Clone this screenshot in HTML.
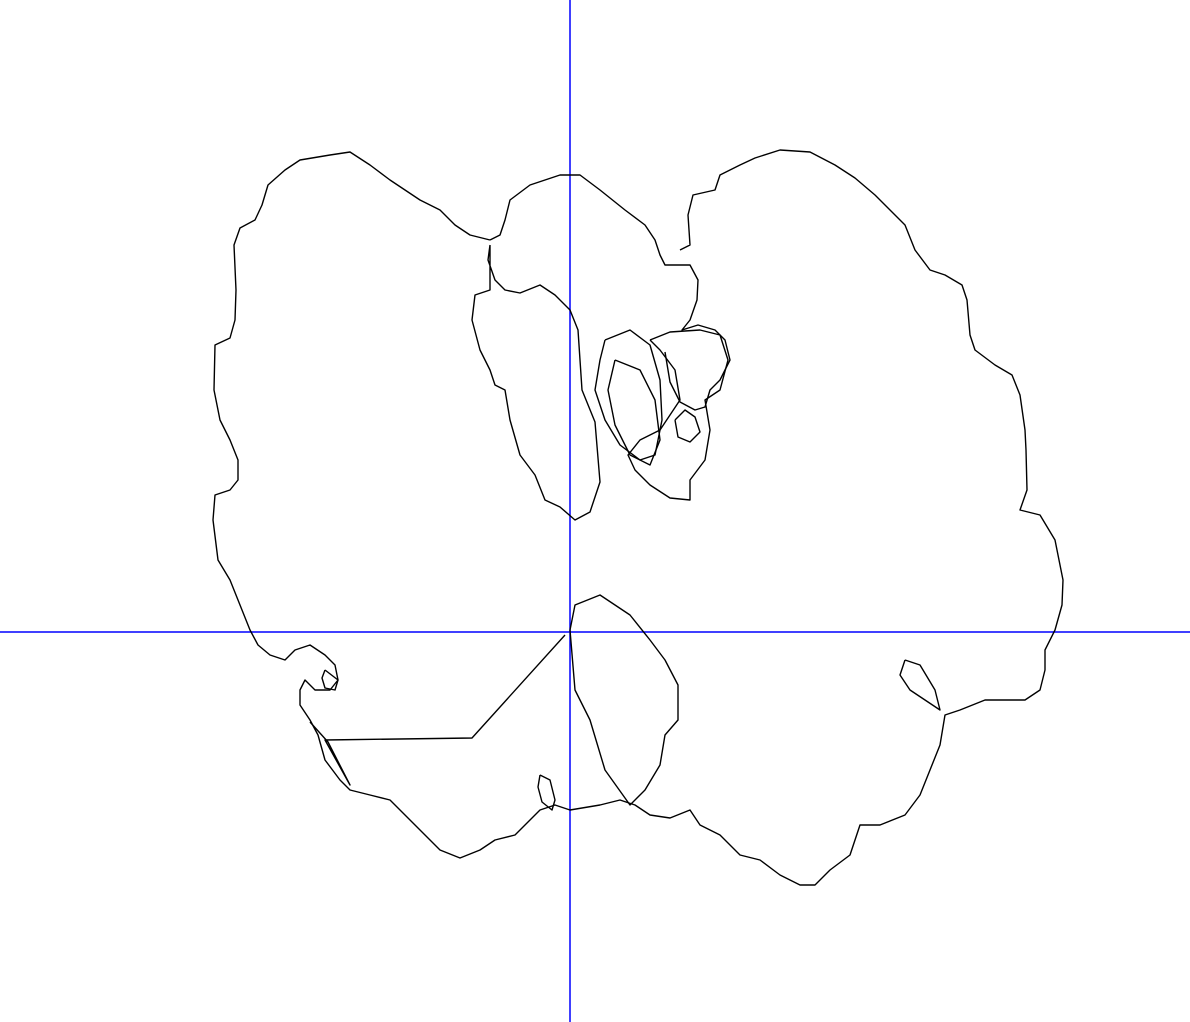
<!DOCTYPE html>
<html><head><meta charset="utf-8"><style>
html,body{margin:0;padding:0;background:#fff;width:1190px;height:1022px;overflow:hidden}
svg{display:block}
</style></head><body>
<svg id="chart" width="1190" height="1022" viewBox="0 0 1190 1022">
<line x1="570" y1="0" x2="570" y2="1022" stroke="#0000ff" stroke-width="1.5"/>
<line x1="0" y1="632" x2="1190" y2="632" stroke="#0000ff" stroke-width="1.5"/>
<g id="curves"></g>
</svg>
<script>
// Outline traces in data units (origin at axes crossing, y up)
const outerPetalsX=[-80,-100,-115,-130,-150,-165,-180,-200,-220,-240,-270,-285,-302,-308,-315,-330,-336,-334,-335,-340,-355,-356,-350,-340,-332,-332,-340,-355,-357,-352,-340,-332,-320,-312,-300,-285,-275,-260,-245,-235,-232,-240,-255,-265,-270,-270,-260,-252,-245,-230,-220,-200,-180,-165,-150,-130,-110,-90,-75,-55,-40,-30,-15,0,30,50,65,80,100,120,130,150,170,190,210,230,245,260,280,290,310,335,350,360,370,375,390,415,435,455,470,475,475,485,492,493,485,470,450,457,456,455,450,442,425,405,400,397,392,375,360,345,335,320,305,285,265,240,210,185,170,150,145,123,118,120,110];
const outerPetalsY=[392,397,407,422,432,442,452,467,480,477,472,462,447,427,412,404,387,342,312,294,287,242,212,192,172,152,142,137,112,72,52,32,2,-13,-23,-28,-18,-13,-23,-33,-48,-58,-58,-48,-58,-73,-88,-103,-128,-148,-158,-163,-168,-183,-198,-218,-226,-218,-208,-203,-188,-178,-173,-178,-173,-168,-173,-183,-186,-178,-193,-203,-223,-228,-243,-253,-253,-238,-223,-193,-193,-183,-163,-138,-113,-83,-78,-68,-68,-68,-58,-38,-18,2,27,52,92,117,122,142,182,202,237,257,267,282,297,332,347,357,362,382,407,422,437,454,467,480,482,474,467,457,442,437,417,387,382];
const topPetalX=[-80,-70,-65,-60,-40,-10,10,30,55,75,85,90,95,120,128,127,120,112,128,145,155,160,150,140,135,125,110,100,95];
const topPetalY=[392,397,412,432,447,457,457,442,422,407,392,377,367,367,352,332,312,302,307,302,292,272,252,242,225,222,230,250,280];
const innerLeftX=[-80,-82,-75,-65,-50,-30,-15,0,8,10,12,25,30,20,5,-10,-25,-35,-50,-60,-65,-75,-80,-90,-98,-95,-80,-80];
const innerLeftY=[387,372,352,342,339,347,337,322,302,272,242,210,150,120,112,125,132,157,177,212,242,247,262,282,312,337,342,387];
const loopAX=[35,60,80,90,92,85,70,50,35,25,30,35];
const loopAY=[292,302,287,252,212,177,172,187,212,242,272,292];
const loopBX=[45,70,85,90,80,60,45,38,45];
const loopBY=[272,262,232,192,167,177,207,242,272];
const loopCX=[80,100,130,150,158,150,135,140,135,120,120,100,80,65,58,70,90,110,105,90,80];
const loopCY=[292,300,302,297,272,242,232,202,172,152,132,134,147,162,177,192,202,232,262,282,292];
const swirlX=[105,115,125,130,120,108,105];
const swirlY=[212,222,215,200,190,195,212];
const bottomLobeX=[0,5,30,60,80,95,108,108,95,90,75,60,35,20,5,0];
const bottomLobeY=[2,27,37,17,-8,-28,-53,-88,-103,-133,-158,-173,-138,-88,-58,2];
const bigLineX=[-5,-98,-245,-220,-242,-260];
const bigLineY=[-3,-106,-108,-153,-110,-90];
const smallRightX=[335,350,365,370,355,340,330,335];
const smallRightY=[-28,-33,-58,-78,-68,-58,-43,-28];
const smallBottomX=[-30,-20,-15,-18,-28,-32,-30];
const smallBottomY=[-143,-148,-168,-178,-170,-155,-143];
const smallLeftX=[-245,-232,-235,-245,-248,-245];
const smallLeftY=[-38,-48,-58,-56,-46,-38];

const OX=570, OY=632;
function sx(v){return OX+v;}
function sy(v){return OY-v;}
const series=[
 ['outer-petals-outline',outerPetalsX,outerPetalsY],
 ['top-petal-outline',topPetalX,topPetalY],
 ['inner-left-lobe',innerLeftX,innerLeftY],
 ['inner-loop-a',loopAX,loopAY],
 ['inner-loop-b',loopBX,loopBY],
 ['inner-loop-c',loopCX,loopCY],
 ['inner-swirl',swirlX,swirlY],
 ['bottom-lobe',bottomLobeX,bottomLobeY],
 ['straight-segment',bigLineX,bigLineY],
 ['small-right-loop',smallRightX,smallRightY],
 ['small-bottom-loop',smallBottomX,smallBottomY],
 ['small-left-loop',smallLeftX,smallLeftY]
];
const g=document.getElementById('curves');
for(const s of series){
  const xs=s[1], ys=s[2];
  let d='';
  for(let i=0;i<xs.length;i++){d+=(i?'L':'M')+sx(xs[i]).toFixed(1)+','+sy(ys[i]).toFixed(1);}
  const p=document.createElementNS('http://www.w3.org/2000/svg','path');
  p.setAttribute('d',d);
  p.setAttribute('fill','none');
  p.setAttribute('stroke','#000');
  p.setAttribute('stroke-width','1.4');
  p.setAttribute('stroke-linejoin','round');
  
  
  g.appendChild(p);
}
</script>
</body></html>
